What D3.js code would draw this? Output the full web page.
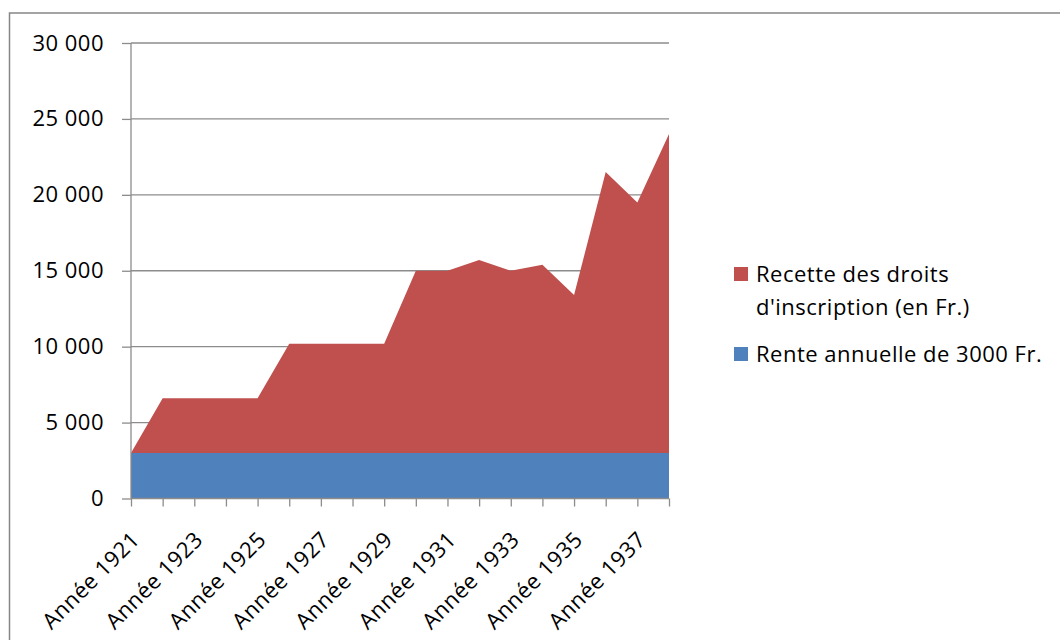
<!DOCTYPE html>
<html>
<head>
<meta charset="utf-8">
<script src="https://cdn.jsdelivr.net/npm/d3@7"></script>
<style>
  html, body { margin: 0; padding: 0; background: #fff; }
  svg { display: block; }
  text { font-family: "Open Sans", "Noto Sans", sans-serif; fill: #000; letter-spacing: 0.5px; }
</style>
</head>
<body>
<svg id="chart" width="1060" height="640"></svg>
<script>
const years = [1921,1922,1923,1924,1925,1926,1927,1928,1929,1930,1931,1932,1933,1934,1935,1936,1937,1938];
const categories = years.map(y => "Année " + y);
const rente = [3000,3000,3000,3000,3000,3000,3000,3000,3000,3000,3000,3000,3000,3000,3000,3000,3000,3000];
const recette = [0,3600,3600,3600,3600,7200,7200,7200,7200,12000,12000,12700,12000,12400,10400,18500,16500,21000];
const yTicks = [0,5000,10000,15000,20000,25000,30000];
const seriesNames = ["Rente annuelle de 3000 Fr.", "Recette des droits d'inscription (en Fr.)"];
const colors = ["#4f81bd", "#c0504d"];

const svg = d3.select("#chart");
const pLeft = 131, pRight = 669, pTop = 43, pBottom = 498.5;
const fontSize = "22px";

// outer border
svg.append("rect").attr("x", 9.5).attr("y", 13).attr("width", 1100).attr("height", 700)
  .attr("fill", "none").attr("stroke", "#868686").attr("stroke-width", 1.5);

const x = d3.scalePoint().domain(categories).range([pLeft, pRight]);
const y = d3.scaleLinear().domain([0, 30000]).range([pBottom, pTop]);

// gridlines
svg.append("g").selectAll("line").data(yTicks.slice(1)).join("line")
  .attr("x1", pLeft).attr("x2", pRight)
  .attr("y1", d => y(d)).attr("y2", d => y(d))
  .attr("stroke", "#8c8c8c").attr("stroke-width", 1.3);

// stacked areas
const table = categories.map((c, i) => ({cat: c, rente: rente[i], recette: recette[i]}));
const stack = d3.stack().keys(["rente", "recette"]);
const layers = stack(table);
const area = d3.area().x(d => x(d.data.cat)).y0(d => y(d[0])).y1(d => y(d[1]));
svg.append("g").selectAll("path").data(layers).join("path")
  .attr("d", area).attr("fill", (d, i) => colors[i]);

// y axis
const yAxis = d3.axisLeft(y).tickValues(yTicks).tickSize(9).tickPadding(18)
  .tickFormat(d => d3.format(",")(d).replace(/,/g, " "));
const gy = svg.append("g").attr("transform", `translate(${pLeft},0)`).call(yAxis);
gy.attr("font-family", null).attr("font-size", null);
gy.select(".domain").attr("stroke", "#8c8c8c").attr("stroke-width", 1.3).attr("d", `M0,${pTop}V${pBottom}`);
gy.selectAll(".tick line").attr("stroke", "#8c8c8c").attr("stroke-width", 1.3);
gy.selectAll(".tick text").style("font-size", fontSize);

// x axis
const xAxis = d3.axisBottom(x).tickSize(8).tickFormat((d, i) => i % 2 === 0 ? d : "");
const gx = svg.append("g").attr("transform", `translate(0,${pBottom})`).call(xAxis);
gx.attr("font-family", null).attr("font-size", null);
gx.select(".domain").attr("stroke", "#8c8c8c").attr("stroke-width", 1.3).attr("d", `M${pLeft},0H${pRight}`);
gx.selectAll(".tick line").attr("stroke", "#8c8c8c").attr("stroke-width", 1.3);
gx.selectAll(".tick text").style("font-size", fontSize)
  .attr("text-anchor", "end").attr("y", null).attr("dy", "0.35em")
  .attr("transform", "translate(4,37) rotate(-45)");

// legend
const legend = svg.append("g");
const legendItems = [
  {name: ["Recette des droits", "d'inscription (en Fr.)"], color: colors[1], y: 274},
  {name: ["Rente annuelle de 3000 Fr."], color: colors[0], y: 354}
];
legendItems.forEach(it => {
  legend.append("rect").attr("x", 734).attr("y", it.y - 7).attr("width", 14).attr("height", 14).attr("fill", it.color);
  const t = legend.append("text").attr("x", 756).attr("y", it.y + 8).style("font-size", fontSize);
  it.name.forEach((line, k) => t.append("tspan").attr("x", 756).attr("dy", k === 0 ? 0 : 33).text(line));
});
</script>
</body>
</html>
